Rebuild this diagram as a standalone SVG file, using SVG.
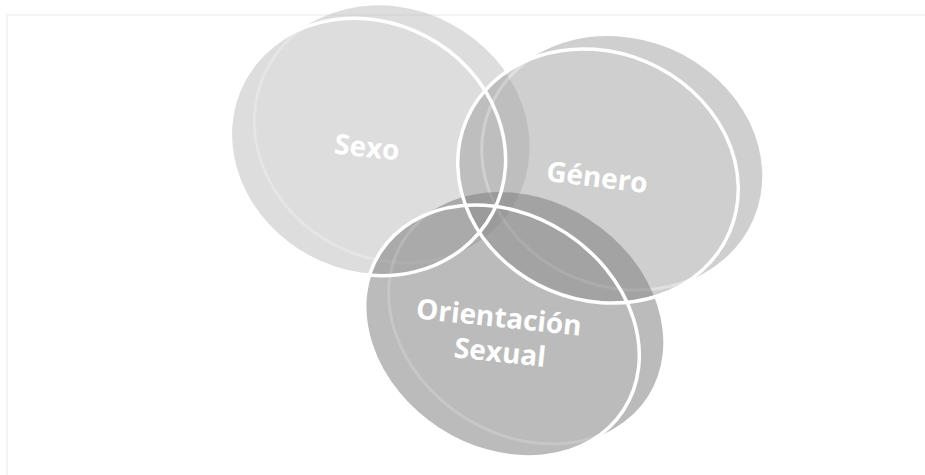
<svg xmlns="http://www.w3.org/2000/svg" width="925" height="475" viewBox="0 0 925 475">
<style>
.lbl{font-family:"Open Sans","Liberation Sans",sans-serif;font-weight:700;font-size:28px;fill:#ffffff;text-anchor:middle}
.outline{fill:none;stroke:#ffffff;stroke-width:3.5}
.rim{fill:none;stroke-width:3}
</style>
<defs>
  <ellipse id="diskS" cx="0" cy="0" rx="141" ry="125" transform="rotate(28)"/>
  <ellipse id="diskG" cx="0" cy="0" rx="143" ry="124" transform="rotate(23)"/>
  <ellipse id="diskO" cx="0" cy="0" rx="145" ry="117" transform="rotate(33)"/>
  <g id="bodyS">
    <use href="#diskS" transform="translate(24,-13)"/>
    <use href="#diskS" transform="translate(20,-10.8)"/>
    <use href="#diskS" transform="translate(16,-8.7)"/>
    <use href="#diskS" transform="translate(12,-6.5)"/>
    <use href="#diskS" transform="translate(8,-4.3)"/>
    <use href="#diskS" transform="translate(4,-2.2)"/>
    <use href="#diskS"/>
  </g>
  <g id="bodyG">
    <use href="#diskG" transform="translate(24,-13)"/>
    <use href="#diskG" transform="translate(20,-10.8)"/>
    <use href="#diskG" transform="translate(16,-8.7)"/>
    <use href="#diskG" transform="translate(12,-6.5)"/>
    <use href="#diskG" transform="translate(8,-4.3)"/>
    <use href="#diskG" transform="translate(4,-2.2)"/>
    <use href="#diskG"/>
  </g>
  <g id="bodyO">
    <use href="#diskO" transform="translate(24,-13)"/>
    <use href="#diskO" transform="translate(20,-10.8)"/>
    <use href="#diskO" transform="translate(16,-8.7)"/>
    <use href="#diskO" transform="translate(12,-6.5)"/>
    <use href="#diskO" transform="translate(8,-4.3)"/>
    <use href="#diskO" transform="translate(4,-2.2)"/>
    <use href="#diskO"/>
  </g>
  <clipPath id="clipS"><use href="#diskS" transform="translate(368,147)"/></clipPath>
  <clipPath id="clipG"><use href="#diskG" transform="translate(598,176)"/></clipPath>
  <clipPath id="clipO"><use href="#diskO" transform="translate(502,331)"/></clipPath>
</defs>
<rect width="925" height="475" fill="#ffffff"/>
<path d="M7 475V15H925" fill="none" stroke="#efefef" stroke-width="1.5"/>

<g id="sexo">
  <g opacity="0.5" fill="#bdbdbd">
    <use href="#bodyS" transform="translate(368,147)"/>
    <g clip-path="url(#clipS)"><use href="#diskS" class="rim" stroke="#cccccc" transform="translate(392,134)"/></g>
  </g>
  <text class="lbl" transform="translate(366,157) rotate(6)">Sexo</text>
</g>

<g id="genero">
  <g opacity="0.5" fill="#a1a1a1">
    <use href="#bodyG" transform="translate(598,176)"/>
    <g clip-path="url(#clipG)"><use href="#diskG" class="rim" stroke="#c4c4c4" transform="translate(622,163)"/></g>
  </g>
  <text class="lbl" transform="translate(596,187) rotate(7)">Género</text>
</g>

<g id="orientacion">
  <g opacity="0.5" fill="#797979">
    <use href="#bodyO" transform="translate(502,331)"/>
    <g clip-path="url(#clipO)"><use href="#diskO" class="rim" stroke="#909090" transform="translate(526,318)"/></g>
  </g>
  <text class="lbl" transform="translate(498,327) rotate(6)">Orientación</text>
  <text class="lbl" transform="translate(499,362) rotate(6)">Sexual</text>
</g>

<g id="connectors">
  <use href="#diskS" class="outline" transform="translate(368,147)"/>
  <use href="#diskG" class="outline" transform="translate(598,176)"/>
  <use href="#diskO" class="outline" transform="translate(502,331)"/>
</g>
</svg>
